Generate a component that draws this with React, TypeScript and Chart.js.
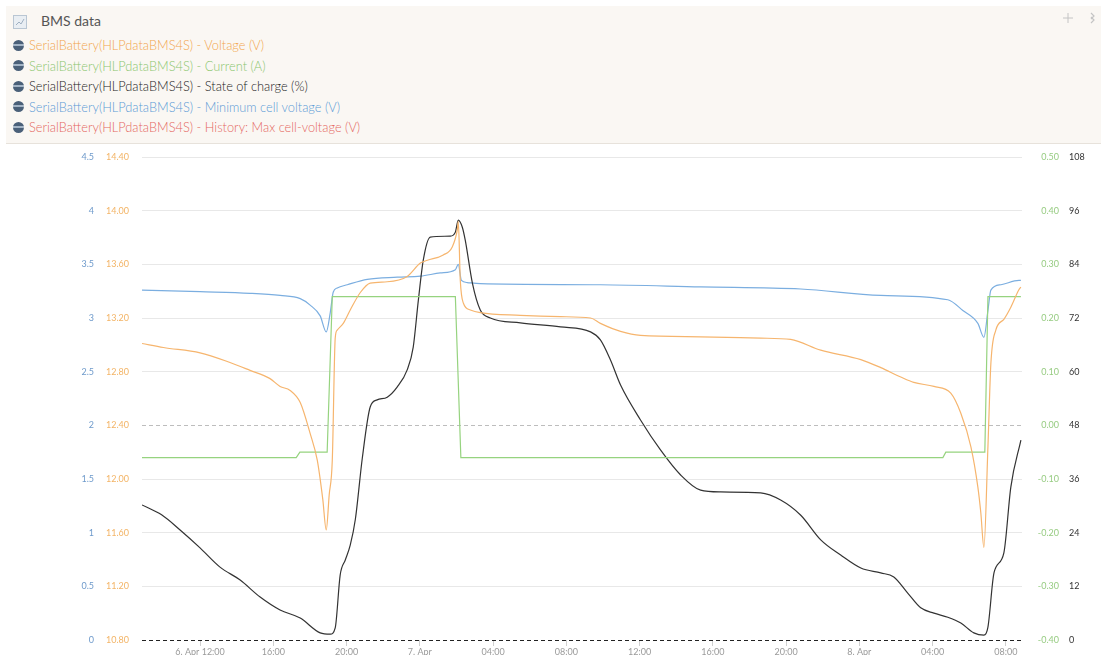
import React, { useEffect, useRef } from "react";
import { Chart, registerables } from "chart.js";
Chart.register(...registerables);

const seriesNames = [
  "SerialBattery(HLPdataBMS4S) - Voltage (V)",
  "SerialBattery(HLPdataBMS4S) - Current (A)",
  "SerialBattery(HLPdataBMS4S) - State of charge (%)",
  "SerialBattery(HLPdataBMS4S) - Minimum cell voltage (V)",
  "SerialBattery(HLPdataBMS4S) - History: Max cell-voltage (V)",
];
const lineColors = ["#f6b56e", "#96d37f", "#333333", "#7baee0", "#e8706a"];
const legendTextColors = ["#f2a54c", "#8ac66e", "#222222", "#5b9bd6", "#e5675f"];

// time in hours since 6 Apr 00:00
const voltageTimes = [8.83, 10.0, 12.0, 13.6, 14.73, 15.8, 16.37, 16.92, 17.47, 18.01, 18.4, 18.7, 18.89, 19.05, 19.22, 19.38, 19.49, 19.82, 20.2, 20.75, 21.29, 22.22, 23.31, 24.03, 24.41, 25.28, 25.77, 26.05, 26.1, 26.21, 26.38, 26.76, 27.3, 29.49, 31.68, 33.32, 33.86, 34.96, 36.05, 39.33, 42.61, 44.25, 45.89, 48.08, 49.17, 50.26, 50.97, 52.07, 52.99, 53.54, 54.09, 54.47, 54.63, 54.8, 55.02, 55.18, 55.45, 55.89, 56.27, 56.71, 56.82];
const voltageValues = [13.01, 12.98, 12.94, 12.87, 12.81, 12.75, 12.69, 12.66, 12.57, 12.34, 12.14, 11.85, 11.62, 11.88, 12.14, 13.05, 13.11, 13.16, 13.26, 13.39, 13.46, 13.47, 13.51, 13.61, 13.63, 13.67, 13.73, 13.86, 13.92, 13.48, 13.31, 13.26, 13.24, 13.22, 13.21, 13.2, 13.16, 13.1, 13.07, 13.06, 13.05, 13.04, 12.96, 12.89, 12.83, 12.76, 12.72, 12.69, 12.64, 12.49, 12.24, 11.94, 11.75, 11.49, 12.24, 12.86, 13.11, 13.19, 13.28, 13.41, 13.43];

const currentTimes = [8.83, 17.25, 17.45, 18.94, 19.22, 25.94, 26.24, 52.56, 52.72, 54.85, 55.02, 56.82];
const currentValues = [-0.06, -0.06, -0.05, -0.05, 0.24, 0.24, -0.06, -0.06, -0.05, -0.05, 0.24, 0.24];

const socTimes = [8.83, 9.9, 10.91, 12.0, 13.09, 14.19, 15.28, 16.37, 17.47, 18.56, 19.11, 19.38, 19.65, 19.93, 20.2, 20.48, 20.86, 21.29, 21.67, 22.22, 22.77, 23.31, 23.64, 23.92, 24.19, 24.57, 25.66, 25.94, 26.1, 26.32, 26.48, 26.87, 27.3, 27.85, 29.49, 31.68, 33.32, 33.86, 34.41, 34.96, 36.05, 37.14, 38.24, 39.33, 40.42, 42.61, 43.7, 44.8, 45.89, 46.98, 48.08, 49.17, 49.88, 50.64, 51.35, 52.07, 52.83, 53.54, 54.25, 54.8, 55.02, 55.35, 55.89, 56.27, 56.82];
const socValues = [30.2, 28.0, 24.6, 20.6, 16.3, 13.4, 9.6, 6.7, 4.9, 1.6, 1.3, 2.7, 14.5, 17.9, 21.2, 27.0, 40.7, 52.1, 53.7, 54.3, 56.6, 60.4, 65.5, 76.0, 85.0, 90.1, 90.3, 91.2, 93.9, 92.3, 89.4, 79.8, 73.8, 72.0, 70.9, 70.0, 68.9, 67.1, 62.6, 57.0, 49.2, 42.5, 36.9, 33.5, 33.1, 32.9, 31.3, 27.9, 22.4, 19.0, 16.1, 15.0, 14.1, 10.5, 7.2, 6.0, 5.1, 3.8, 1.6, 1.1, 2.9, 15.0, 19.5, 34.2, 44.7];

const minCellTimes = [8.83, 12.0, 14.73, 16.37, 17.47, 18.01, 18.56, 18.89, 19.11, 19.27, 19.49, 20.04, 21.13, 22.77, 24.03, 25.12, 25.94, 26.1, 26.27, 26.59, 27.3, 33.86, 39.33, 44.8, 49.17, 52.83, 53.65, 54.47, 54.8, 55.02, 55.18, 55.73, 56.71, 56.82];
const minCellValues = [3.26, 3.245, 3.23, 3.21, 3.18, 3.12, 3.02, 2.87, 3.05, 3.24, 3.28, 3.31, 3.36, 3.38, 3.39, 3.42, 3.45, 3.5, 3.35, 3.33, 3.32, 3.31, 3.29, 3.27, 3.21, 3.17, 3.07, 2.95, 2.82, 3.07, 3.26, 3.31, 3.35, 3.35];

const maxCellHistoryTimes: number[] = [];
const maxCellHistoryValues: number[] = [];

const xTickHours = [12, 16, 20, 24, 28, 32, 36, 40, 44, 48, 52, 56];
const xTickLabels = ["6. Apr 12:00", "16:00", "20:00", "7. Apr", "04:00", "08:00", "12:00", "16:00", "20:00", "8. Apr", "04:00", "08:00"];
const xMin = 8.83;
const xMax = 56.88;

const cellTicks = [0, 0.5, 1, 1.5, 2, 2.5, 3, 3.5, 4, 4.5];
const voltageTicks = [10.8, 11.2, 11.6, 12.0, 12.4, 12.8, 13.2, 13.6, 14.0, 14.4];
const currentTicks = [-0.4, -0.3, -0.2, -0.1, 0, 0.1, 0.2, 0.3, 0.4, 0.5];
const socTicks = [0, 12, 24, 36, 48, 60, 72, 84, 96, 108];

const FONT = "Lato, 'Open Sans', sans-serif";

function pts(t: number[], v: number[]) {
  return t.map((x, i) => ({ x, y: v[i] }));
}

function setTicks(list: number[]) {
  return (scale: any) => {
    scale.ticks = list.map((value) => ({ value }));
  };
}

function fitWidth(w: number) {
  return (s: any) => {
    s.width = w;
    s.paddingTop = 0;
    s.paddingBottom = 0;
  };
}

function Globe() {
  return (
    <div
      style={{
        width: 11,
        height: 11,
        flex: "0 0 11px",
        borderRadius: "50%",
        background:
          "linear-gradient(to bottom, #4a6079 0%, #4a6079 40%, #a3b4c6 40%, #a3b4c6 58%, #4a6079 58%, #4a6079 100%)",
      }}
    />
  );
}

export default function App() {
  const canvasRef = useRef<HTMLCanvasElement | null>(null);

  useEffect(() => {
    document.body.style.margin = "0";
    const canvas = canvasRef.current;
    if (!canvas) return;
    const tickFont = { family: FONT, size: 9 };
    const chart = new Chart(canvas, {
      type: "line",
      data: {
        datasets: [
          {
            label: seriesNames[0],
            data: pts(voltageTimes, voltageValues),
            borderColor: lineColors[0],
            yAxisID: "yV",
            cubicInterpolationMode: "monotone",
          },
          {
            label: seriesNames[1],
            data: pts(currentTimes, currentValues),
            borderColor: lineColors[1],
            yAxisID: "yC",
            tension: 0,
          },
          {
            label: seriesNames[2],
            data: pts(socTimes, socValues),
            borderColor: lineColors[2],
            yAxisID: "yS",
            cubicInterpolationMode: "monotone",
          },
          {
            label: seriesNames[3],
            data: pts(minCellTimes, minCellValues),
            borderColor: lineColors[3],
            yAxisID: "y",
            cubicInterpolationMode: "monotone",
          },
          {
            label: seriesNames[4],
            data: pts(maxCellHistoryTimes, maxCellHistoryValues),
            borderColor: lineColors[4],
            yAxisID: "y",
          },
        ],
      },
      options: {
        animation: false,
        responsive: false,
        maintainAspectRatio: false,
        elements: {
          point: { radius: 0, hoverRadius: 0 },
          line: { borderWidth: 1.2, fill: false },
        },
        layout: { padding: { top: 12, left: 0, right: 0, bottom: 0 } },
        plugins: {
          legend: { display: false },
          tooltip: { enabled: false },
          title: { display: false },
        },
        scales: {
          x: {
            type: "linear",
            min: xMin,
            max: xMax,
            afterBuildTicks: setTicks(xTickHours),
            afterFit: (s: any) => {
              s.height = 30;
            },
            grid: {
              drawOnChartArea: false,
              drawTicks: true,
              tickLength: 6,
              tickColor: "#d0d0d0",
            },
            border: { display: false },
            ticks: {
              autoSkip: false,
              maxRotation: 0,
              padding: 1,
              color: "#9a9a9a",
              font: tickFont,
              callback: (v: any) => xTickLabels[xTickHours.indexOf(Number(v))] ?? "",
            },
          },
          y: {
            type: "linear",
            position: "left",
            weight: 1,
            min: 0,
            max: 4.5,
            afterBuildTicks: setTicks(cellTicks),
            afterFit: fitWidth(100),
            grid: {
              drawTicks: false,
              color: (ctx: any) =>
                ctx.tick && Math.abs(ctx.tick.value) < 1e-9
                  ? "#222222"
                  : ctx.tick && Math.abs(ctx.tick.value - 2) < 1e-9
                  ? "#bdbdbd"
                  : "#e8e8e8",
              lineWidth: 1,
            },
            border: {
              display: false,
              dash: (ctx: any) =>
                ctx.tick && (Math.abs(ctx.tick.value) < 1e-9 || Math.abs(ctx.tick.value - 2) < 1e-9)
                  ? [4, 3]
                  : [],
            },
            ticks: {
              padding: 6,
              color: "#6e9acb",
              font: tickFont,
              callback: (v: any) => String(Number(Number(v).toFixed(1))),
            },
          },
          yV: {
            type: "linear",
            position: "left",
            weight: 0,
            min: 10.8,
            max: 14.4,
            afterBuildTicks: setTicks(voltageTicks),
            afterFit: fitWidth(42),
            grid: { drawOnChartArea: false, drawTicks: false },
            border: { display: false },
            ticks: {
              padding: 13,
              color: "#f3b466",
              font: tickFont,
              callback: (v: any) => Number(v).toFixed(2),
            },
          },
          yC: {
            type: "linear",
            position: "right",
            weight: 0,
            min: -0.4,
            max: 0.5,
            afterBuildTicks: setTicks(currentTicks),
            afterFit: fitWidth(37),
            grid: { drawOnChartArea: false, drawTicks: false },
            border: { display: false },
            ticks: {
              padding: 9,
              crossAlign: "far",
              color: "#97cc82",
              font: tickFont,
              callback: (v: any) => Number(v).toFixed(2),
            },
          },
          yS: {
            type: "linear",
            position: "right",
            weight: 1,
            min: 0,
            max: 108,
            afterBuildTicks: setTicks(socTicks),
            afterFit: fitWidth(42),
            grid: { drawOnChartArea: false, drawTicks: false },
            border: { display: false },
            ticks: {
              padding: 10,
              color: "#333333",
              font: tickFont,
              callback: (v: any) => String(Math.round(Number(v))),
            },
          },
        },
      } as any,
    });
    return () => {
      chart.destroy();
    };
  }, []);

  const rowCenters = [45, 65.5, 86, 106.5, 127];

  return (
    <div
      style={{
        position: "relative",
        width: 1101,
        height: 655,
        overflow: "hidden",
        background: "#ffffff",
        fontFamily: FONT,
      }}
    >
      <div
        style={{
          position: "absolute",
          left: 6,
          top: 6,
          width: 1110,
          height: 137,
          background: "#faf7f3",
          borderBottom: "1px solid #e7e2db",
        }}
      />
      <div
        style={{
          position: "absolute",
          left: 13,
          top: 15,
          width: 12,
          height: 12,
          border: "1px solid #b9c6d3",
          background: "#e9eef3",
        }}
      >
        <svg width="12" height="12" style={{ display: "block" }}>
          <polyline points="2,9 5,6 7,8 10,3" fill="none" stroke="#9fb0c2" strokeWidth="1" />
        </svg>
      </div>
      <div
        style={{
          position: "absolute",
          left: 41,
          top: 12,
          fontSize: 14,
          lineHeight: "18px",
          color: "#555555",
          whiteSpace: "nowrap",
        }}
      >
        BMS data
      </div>
      <svg width="14" height="14" style={{ position: "absolute", left: 1061, top: 11 }}>
        <g stroke="#c4c4c4" strokeWidth="1" fill="none">
          <line x1="7" y1="2" x2="7" y2="12" />
          <line x1="2" y1="7" x2="12" y2="7" />
        </g>
      </svg>
      <svg width="10" height="14" style={{ position: "absolute", left: 1089, top: 11 }}>
        <g stroke="#c4c4c4" strokeWidth="1.2" fill="none">
          <polyline points="2,2 5,5 2,8" />
          <polyline points="2,6 5,9 2,12" />
        </g>
      </svg>
      {seriesNames.map((name, i) => (
        <div
          key={name}
          style={{
            position: "absolute",
            left: 13,
            top: rowCenters[i] - 9,
            height: 18,
            display: "flex",
            alignItems: "center",
            whiteSpace: "nowrap",
          }}
        >
          <Globe />
          <span style={{ marginLeft: 5, fontSize: 12.8, fontWeight: 300, color: legendTextColors[i] }}>{name}</span>
        </div>
      ))}
      <canvas
        ref={canvasRef}
        width={1101}
        height={525}
        style={{ position: "absolute", left: 0, top: 145, width: 1101, height: 525 }}
      />
    </div>
  );
}
